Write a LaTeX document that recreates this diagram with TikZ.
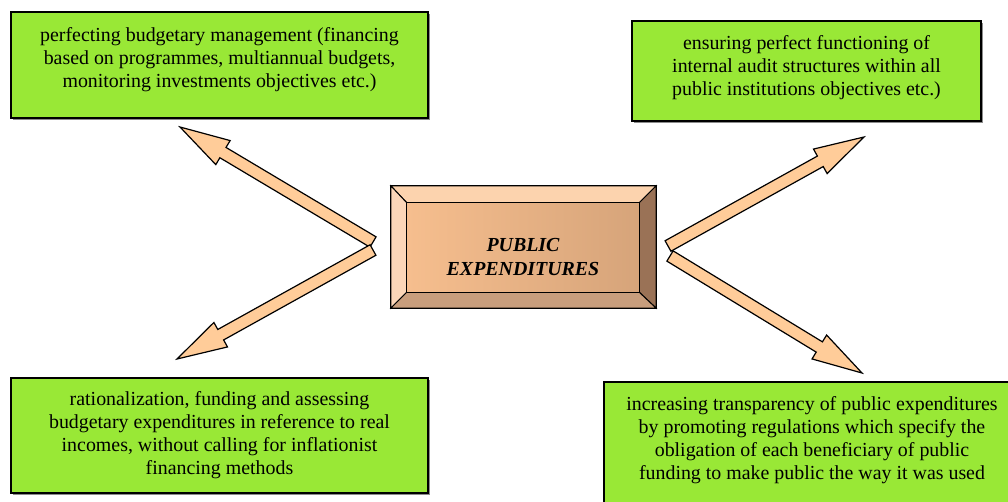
\documentclass[tikz,border=0pt]{standalone}
\usepackage{fontspec}
\setmainfont{Liberation Serif}
\usetikzlibrary{calc,shadows}
\definecolor{boxgreen}{RGB}{153,232,54}
\definecolor{arrowfill}{RGB}{255,204,153}
\definecolor{bevtop}{RGB}{252,211,174}
\definecolor{bevleft}{RGB}{251,214,184}
\definecolor{bevright}{RGB}{154,114,86}
\definecolor{bevbottom}{RGB}{200,158,125}
\definecolor{innerL}{RGB}{246,190,142}
\definecolor{innerR}{RGB}{214,164,122}
\newcommand\blockarrow[2]{%
  \coordinate (ba-c) at ($(#2)!50pt!(#1)$);
  \draw[arrowbody] ($(#1)!6pt!90:(#2)$) -- ($(ba-c)!6pt!90:(#2)$)
    -- ($(ba-c)!14pt!90:(#2)$) -- (#2) -- ($(ba-c)!14pt!-90:(#2)$)
    -- ($(ba-c)!6pt!-90:(#2)$) -- ($(#1)!6pt!-90:(#2)$) -- cycle;}
\tikzset{
  greenbox/.style={draw=black, line width=1.4pt, fill=boxgreen, rectangle,
    drop shadow={shadow xshift=1.5pt, shadow yshift=-1.5pt, fill=black!45, opacity=1}},
  boxtext/.style={align=center, inner sep=0pt, font=\fontsize{19.9}{23.2}\selectfont},
  arrowbody/.style={draw=black, line width=1.2pt, fill=arrowfill, line join=miter},
  bevel/.style={draw=black, line width=1pt, line join=miter},
}
\begin{document}
\begin{tikzpicture}[x=1pt,y=-1pt]
\useasboundingbox (0,0) rectangle (1008,501);
\fill[white] (0,0) rectangle (1008,501);

% green boxes
\node[greenbox, minimum width=417pt, minimum height=106pt] (tl) at (219.5,65) {};
\node[greenbox, minimum width=349pt, minimum height=100pt] (tr) at (806.5,71) {};
\node[greenbox, minimum width=417pt, minimum height=115pt] (bl) at (219.5,435.5) {};
\node[greenbox, minimum width=420pt, minimum height=130pt] (br) at (814,447) {};

\node[boxtext] (tlt) at (219.5,59.5) {perfecting budgetary management (financing\\based on programmes, multiannual budgets,\\monitoring investments objectives etc.)};
\node[boxtext] (trt) at (806.5,67.5) {ensuring perfect functioning of\\internal audit structures within all\\public institutions objectives etc.)};
\node[boxtext] (blt) at (219.5,435) {rationalization, funding and assessing\\budgetary expenditures in reference to real\\incomes, without calling for inflationist\\financing methods};
\node[boxtext] (brt) at (812,440) {increasing transparency of public expenditures\\by promoting regulations which specify the\\obligation of each beneficiary of public\\funding to make public the way it was used};

% central bevelled box
\node[minimum width=265pt, minimum height=122pt, inner sep=0pt] (pe) at (523.5,247) {};
\coordinate (o1) at (pe.north west);
\coordinate (o2) at (pe.north east);
\coordinate (o3) at (pe.south east);
\coordinate (o4) at (pe.south west);
\coordinate (i1) at ($(o1)+(16,17)$);
\coordinate (i2) at ($(o2)+(-17,17)$);
\coordinate (i3) at ($(o3)+(-17,-16)$);
\coordinate (i4) at ($(o4)+(16,-16)$);
\draw[bevel, fill=bevtop] (o1) -- (o2) -- (i2) -- (i1) -- cycle;
\draw[bevel, fill=bevleft] (o1) -- (i1) -- (i4) -- (o4) -- cycle;
\draw[bevel, fill=bevright] (o2) -- (o3) -- (i3) -- (i2) -- cycle;
\draw[bevel, fill=bevbottom] (o4) -- (i4) -- (i3) -- (o3) -- cycle;
\draw[bevel, left color=innerL, right color=innerR] (i1) rectangle (i3);
\draw[black, line width=1.3pt] (o1) rectangle (o3);
\node[boxtext, font=\fontsize{19.9}{24}\selectfont\bfseries\itshape] (pet) at (523,257) {PUBLIC\\EXPENDITURES};

% arrows
\coordinate (l1a) at (373,242); \coordinate (l1b) at (180,127);
\coordinate (l2a) at (373,250); \coordinate (l2b) at (177,359);
\coordinate (r1a) at (668,246); \coordinate (r1b) at (864,137);
\coordinate (r2a) at (670,256); \coordinate (r2b) at (862,373);
\blockarrow{l1a}{l1b}
\blockarrow{l2a}{l2b}
\blockarrow{r1a}{r1b}
\blockarrow{r2a}{r2b}
\end{tikzpicture}
\end{document}
